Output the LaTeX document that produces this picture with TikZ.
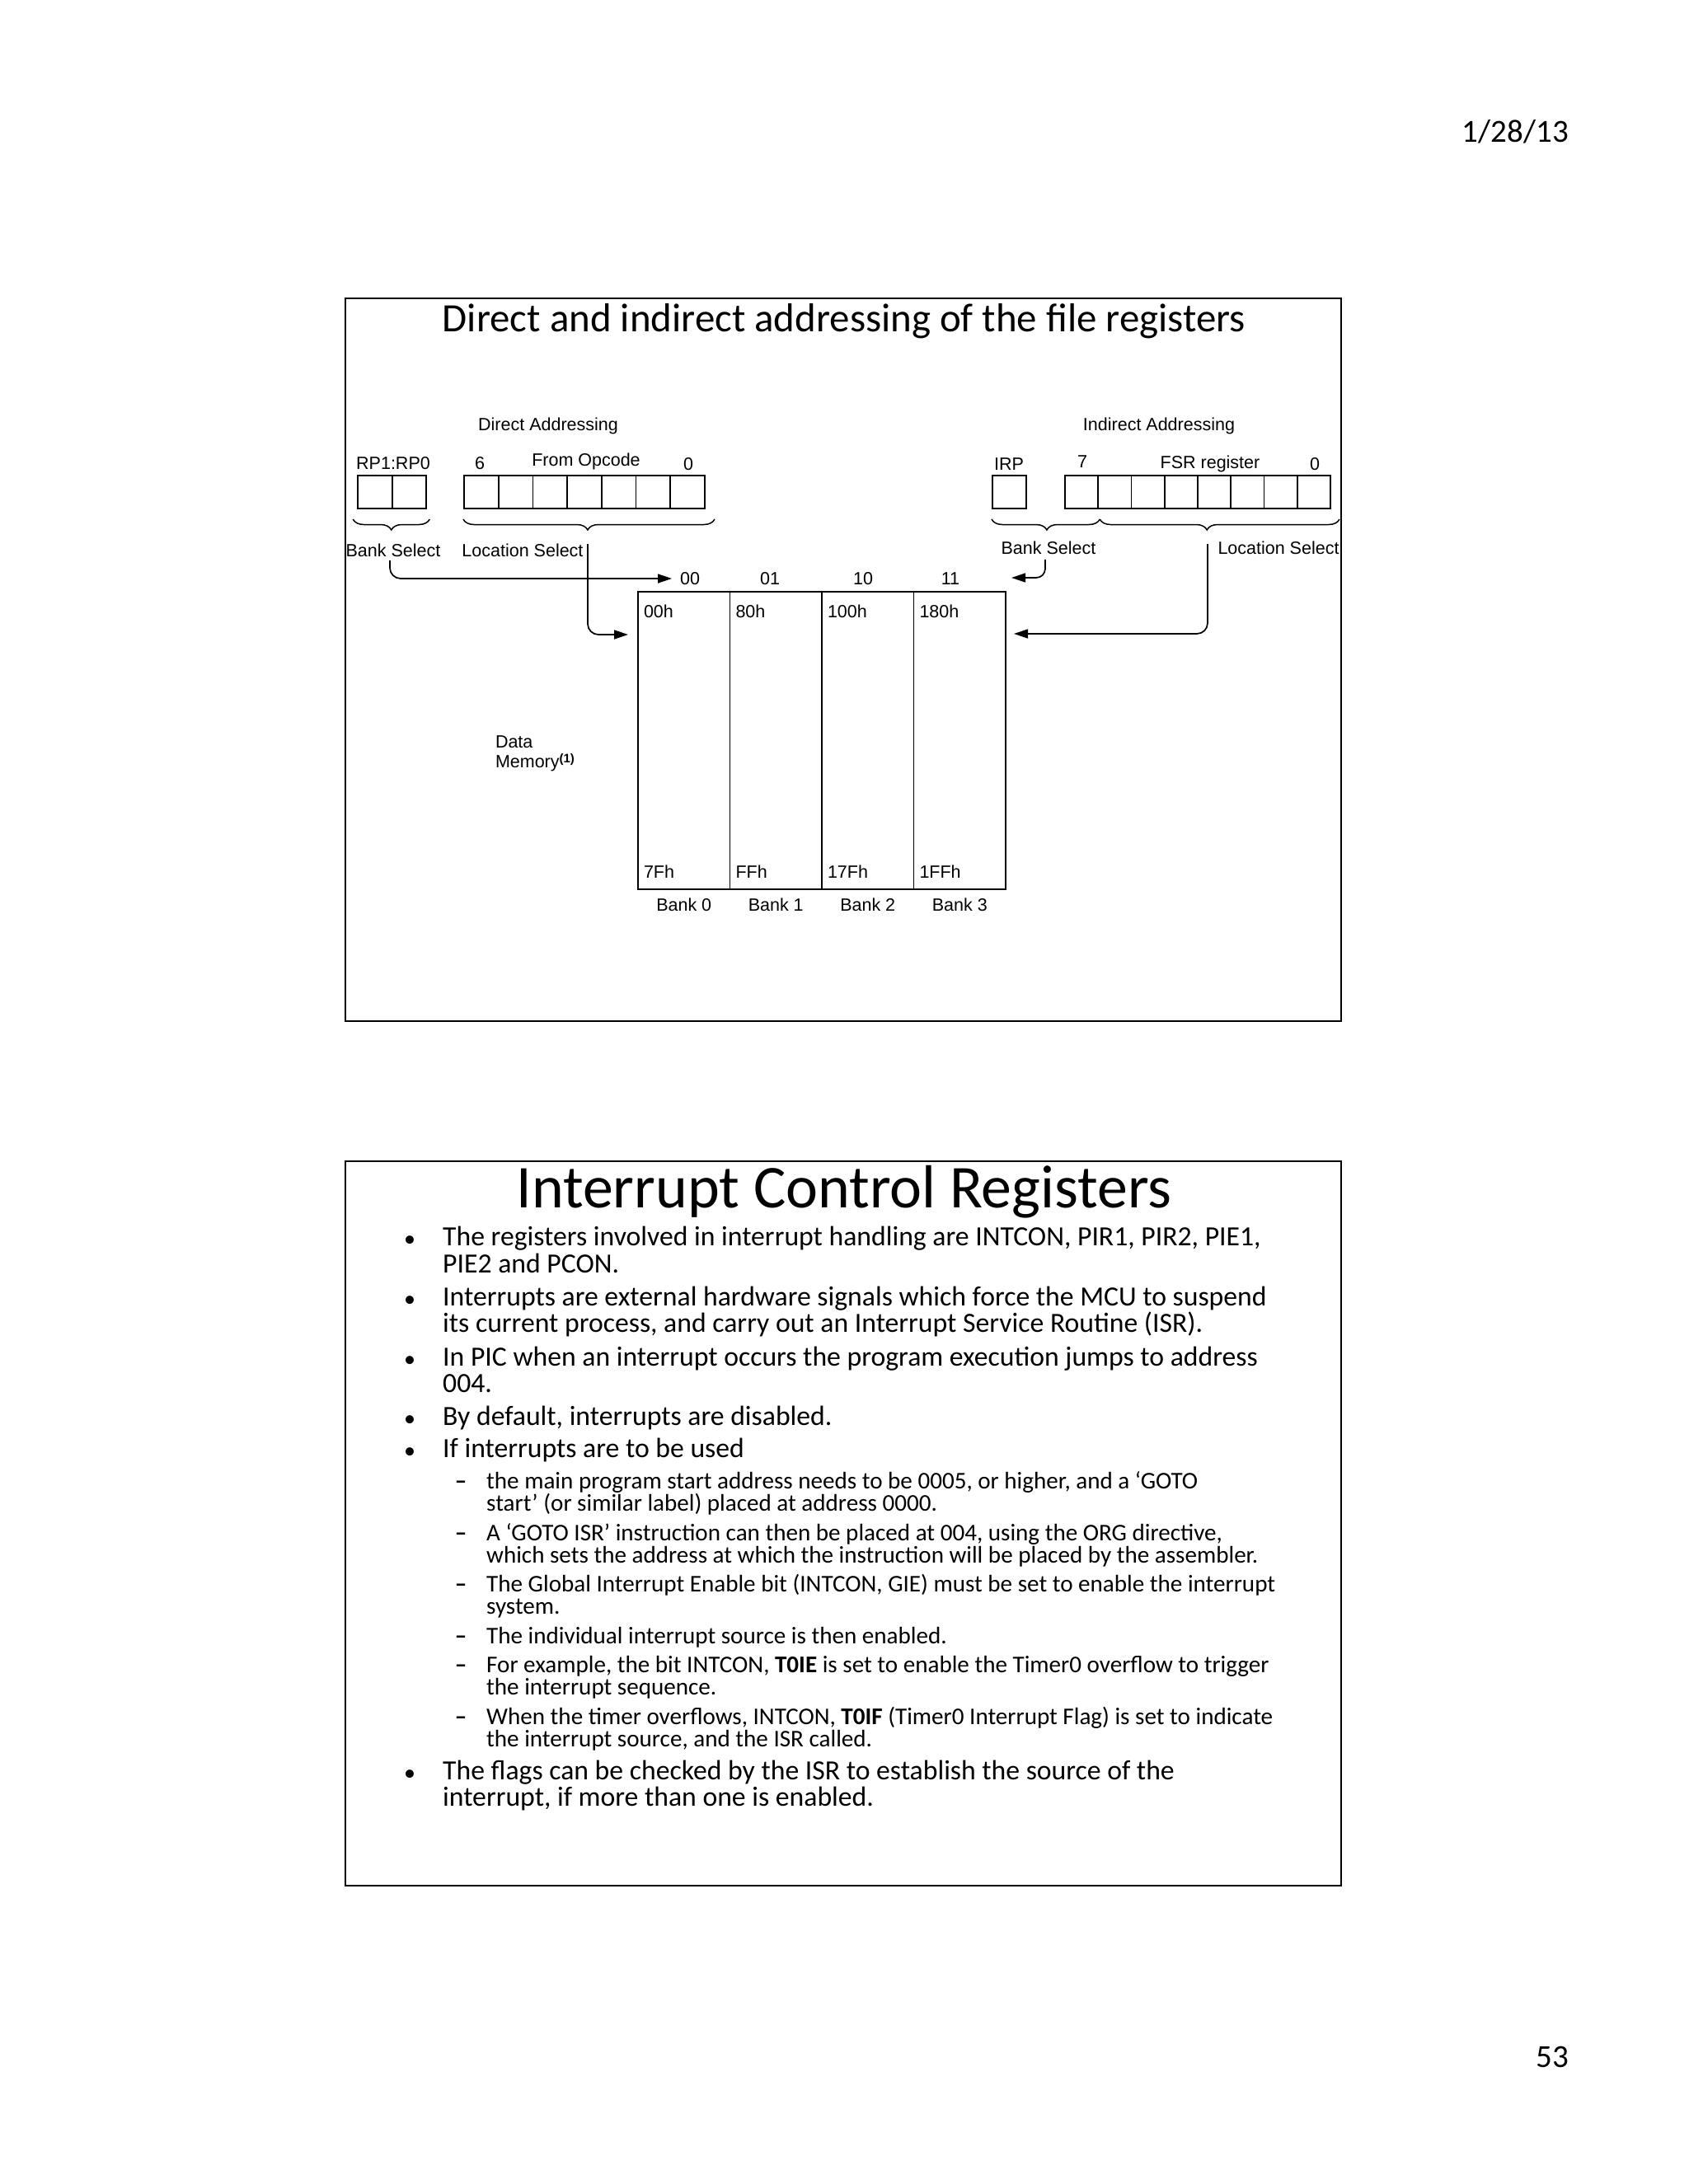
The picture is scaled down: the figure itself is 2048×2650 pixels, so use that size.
\documentclass[tikz,border=0pt]{standalone}
\usepackage{fontspec}
\setmainfont{Carlito}
\newfontfamily\helv{Liberation Sans}
\usetikzlibrary{arrows.meta,decorations.pathreplacing,calc}
\newcommand\diagfont{\helv\fontsize{21.5}{24}\selectfont}
\newcommand\supfontx{\helv\bfseries\fontsize{15}{16}\selectfont}
\newcommand\titleAfont{\fontsize{48.9}{56}\selectfont}
\newcommand\titleBfont{\fontsize{73.8}{80}\selectfont}
\newcommand\mainfont{\fontsize{33.7}{36}\selectfont}
\newcommand\subtxtfont{\fontsize{29.1}{32}\selectfont}
\newcommand\bulfont{\fontsize{28}{30}\selectfont}
\newcommand\pagefont{\fontsize{39}{44}\selectfont}
\tikzset{
  lab/.style={font=\diagfont, inner sep=0pt, outer sep=0pt},
  cell/.style={draw, line width=1.6pt, minimum width=#1, minimum height=40pt, inner sep=0pt, outer sep=0pt},
  memcol/.style={draw, line width=1.8pt, minimum width=111.5pt, minimum height=361pt, inner sep=0pt, outer sep=0pt},
  arr/.style={line width=1.7pt, rounded corners=13pt, -{Triangle[length=17pt,width=11pt]}},
  brc/.style={line width=1.5pt, decorate, decoration={brace, mirror, amplitude=13pt, aspect=#1}},
  frame/.style={line width=2.6pt},
  mainl/.style={anchor=mid west, inner sep=0pt, font=\mainfont},
  subl/.style={anchor=mid west, inner sep=0pt, font=\subtxtfont},
  bul/.style={anchor=base, inner sep=0pt, font=\bulfont, yshift=-3pt},
  dsh/.style={anchor=mid, inner sep=0pt, font=\subtxtfont\bfseries}
}
\begin{document}
\begin{tikzpicture}[x=1pt,y=-1pt]
\useasboundingbox (0,0) rectangle (2048,2650);
% page header/footer
\node[anchor=east, inner sep=0pt, font=\pagefont] (date) at (1903,160) {1/28/13};
\node[anchor=east, inner sep=0pt, font=\pagefont] (pnum) at (1903,2496) {53};

% ---------- slide 1 ----------
\draw[frame] (419,362) rectangle (1627,1239);
\node[inner sep=0pt, font=\titleAfont] (title1) at (1024,390) {Direct and indirect addressing of the file registers};

% direct addressing
\node[lab] (dirA) at (665,517) {Direct Addressing};
\node[lab] (rplab) at (477,562) {RP1:RP0};
\node[cell=41.5pt] (rp1) at (455,597) {};
\node[cell=41.5pt] (rp0) at (496.5,597) {};
\node[lab] (b6) at (582,562) {6};
\node[lab] (fromop) at (711,560) {From Opcode};
\node[lab] (b0a) at (835,563) {0};
\foreach \i in {0,...,6}
  \node[cell=41.7pt] (op\i) at ({563+41.7*(\i+0.5)},597) {};
\draw[brc=0.5] ([xshift=-6pt,yshift=-13pt]rp1.south west) -- ([xshift=4pt,yshift=-13pt]rp0.south east);
\draw[brc=0.495] ([xshift=-1pt,yshift=-13pt]op0.south west) -- ([xshift=12pt,yshift=-13pt]op6.south east);
\node[lab] (bsd) at (477,668) {Bank Select};
\node[lab] (lsd) at (634,668) {Location Select};
\coordinate (lsdtip) at (713,660);
\coordinate (dtip) at (762,770);

% memory
\node[lab] (h00) at (837,702) {00};
\node[lab] (h01) at (934,702) {01};
\node[lab] (h10) at (1047,702) {10};
\node[lab] (h11) at (1153,702) {11};
\foreach \i/\ta/\tb/\bk in {0/00h/7Fh/Bank 0,1/80h/FFh/Bank 1,2/100h/17Fh/Bank 2,3/180h/1FFh/Bank 3}{
  \node[memcol] (m\i) at ({774+111.5*(\i+0.5)},898.5) {};
  \node[lab, anchor=west] (mt\i) at ([xshift=7pt,yshift=-24pt]m\i.north west) {\ta};
  \node[lab, anchor=west] (mb\i) at ([xshift=7pt,yshift=21pt]m\i.south west) {\tb};
  \node[lab] (bk\i) at ([yshift=-19pt]m\i.south) {\bk};
}
\node[lab, anchor=west] (data) at (601,900) {Data};
\node[lab, anchor=west] (memory) at (601,925) {Memory\raisebox{6pt}{\supfontx(1)}};

% indirect addressing
\node[lab] (indA) at (1406,517) {Indirect Addressing};
\node[lab] (irplab) at (1224,563) {IRP};
\node[cell=41pt] (irp) at (1224.5,597) {};
\node[lab] (b7) at (1313,560) {7};
\node[lab] (fsrlab) at (1468,563) {FSR register};
\node[lab] (b0b) at (1595,563) {0};
\foreach \i in {0,...,7}
  \node[cell=40.25pt] (fsr\i) at ({1292+40.25*(\i+0.5)},597) {};
\draw[brc=0.51] ([xshift=-1pt,yshift=-13pt]irp.south west) -- ([xshift=2pt,yshift=-13pt]fsr0.south east);
\draw[brc=0.447] ([xshift=2pt,yshift=-13pt]fsr0.south east) -- ([xshift=11pt,yshift=-13pt]fsr7.south east);
\node[lab] (bsi) at (1272,665) {Bank Select};
\node[lab] (lsi) at (1551,665) {Location Select};
\coordinate (lsitip) at (1465,660);
\coordinate (itip1) at (1227,701);
\coordinate (itip2) at (1230,769);

% connectors
\draw[arr, shorten >=10pt] ([xshift=-4pt,yshift=-4pt]bsd.south) |- (h00.west);
\draw[arr] (lsdtip) |- (dtip);
\draw[arr, rounded corners=11pt] ([xshift=-4pt,yshift=-6pt]bsi.south) |- (itip1);
\draw[arr] (lsitip) |- (itip2);

% ---------- slide 2 ----------
\draw[frame] (419,1409) rectangle (1627,2288);
\node[inner sep=0pt, font=\titleBfont] (title2) at (1024,1446) {Interrupt Control Registers};

\node[bul] (u1) at (497,1509) {•};
\node[mainl] (t1) at (537,1509) {The registers involved in interrupt handling are INTCON, PIR1, PIR2, PIE1,};
\node[mainl] (t2) at (537,1542) {PIE2 and PCON.};
\node[bul] (u2) at (497,1582) {•};
\node[mainl] (t3) at (537,1582) {Interrupts are external hardware signals which force the MCU to suspend};
\node[mainl] (t4) at (537,1614) {its current process, and carry out an Interrupt Service Routine (ISR).};
\node[bul] (u3) at (497,1655) {•};
\node[mainl] (t5) at (537,1655) {In PIC when an interrupt occurs the program execution jumps to address};
\node[mainl] (t6) at (537,1687) {004.};
\node[bul] (u4) at (497,1727) {•};
\node[mainl] (t7) at (537,1727) {By default, interrupts are disabled.};
\node[bul] (u5) at (497,1766) {•};
\node[mainl] (t8) at (537,1766) {If interrupts are to be used};

\node[dsh] (d1) at (559,1804) {–};
\node[subl] (s1) at (590,1804) {the main program start address needs to be 0005, or higher, and a ‘GOTO};
\node[subl] (s2) at (590,1831) {start’ (or similar label) placed at address 0000.};
\node[dsh] (d2) at (559,1867) {–};
\node[subl] (s3) at (590,1867) {A ‘GOTO ISR’ instruction can then be placed at 004, using the ORG directive,};
\node[subl] (s4) at (590,1894) {which sets the address at which the instruction will be placed by the assembler.};
\node[dsh] (d3) at (559,1929) {–};
\node[subl] (s5) at (590,1929) {The Global Interrupt Enable bit (INTCON, GIE) must be set to enable the interrupt};
\node[subl] (s6) at (590,1956) {system.};
\node[dsh] (d4) at (559,1992) {–};
\node[subl] (s7) at (590,1992) {The individual interrupt source is then enabled.};
\node[dsh] (d5) at (559,2027) {–};
\node[subl] (s8) at (590,2027) {For example, the bit INTCON, \textbf{T0IE} is set to enable the Timer0 overflow to trigger};
\node[subl] (s9) at (590,2054) {the interrupt sequence.};
\node[dsh] (d6) at (559,2090) {–};
\node[subl] (s10) at (590,2090) {When the timer overflows, INTCON, \textbf{T0IF} (Timer0 Interrupt Flag) is set to indicate};
\node[subl] (s11) at (590,2117) {the interrupt source, and the ISR called.};

\node[bul] (u6) at (497,2157) {•};
\node[mainl] (t9) at (537,2157) {The flags can be checked by the ISR to establish the source of the};
\node[mainl] (t10) at (537,2189) {interrupt, if more than one is enabled.};
\end{tikzpicture}
\end{document}
